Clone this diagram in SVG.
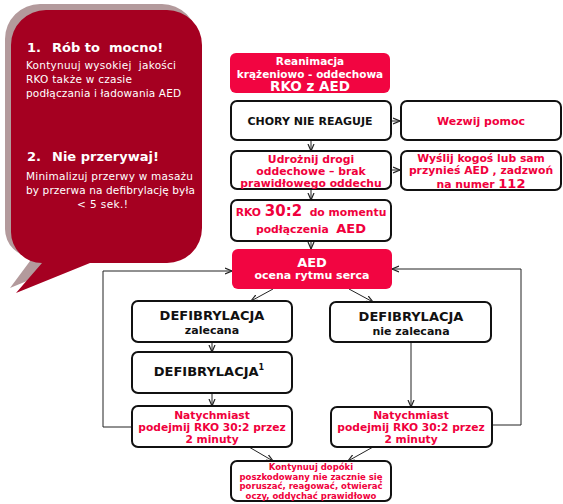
<svg xmlns="http://www.w3.org/2000/svg" width="563" height="504" viewBox="0 0 563 504">
<defs>
<style>
text{font-family:"DejaVu Sans","Verdana",sans-serif;font-weight:bold;text-anchor:middle}
.w{fill:#fff}
.r{fill:#f0003c}
.k{fill:#111}
.box{fill:#fff;stroke:#111;stroke-width:2}
.red{fill:#f20541}
.ln{fill:none;stroke:#222;stroke-width:1}
.bt{font-weight:normal;text-anchor:start;fill:#fff;font-size:10.5px}
</style>
<marker id="ah" markerWidth="8" markerHeight="8" refX="7" refY="4" orient="auto" markerUnits="userSpaceOnUse">
<path d="M0,1 L7,4 L0,7" fill="none" stroke="#222" stroke-width="1.2"/>
</marker>
</defs>
<rect width="563" height="504" fill="#fff"/>
<g id="bubble">
<path d="M40,4 H162 A35,35 0 0 1 197,39 V222 A35,35 0 0 1 162,257 H85 L10,288 L33,257 A28,28 0 0 1 5,229 V39 A35,35 0 0 1 40,4 Z" fill="#b39a9c"/>
<path d="M46,10 H167 A35,35 0 0 1 202,45 V228 A35,35 0 0 1 167,263 H90 L16,293 L42,263 A31,31 0 0 1 11,232 V45 A35,35 0 0 1 46,10 Z" fill="#a50021"/>
<text x="27" y="52" class="w" style="text-anchor:start;font-size:13px">1.</text>
<text x="52" y="52" class="w" style="text-anchor:start;font-size:13px" xml:space="preserve">Rób to  mocno!</text>
<text x="26" y="69" class="bt" textLength="150" lengthAdjust="spacing" xml:space="preserve">Kontynuuj wysokiej  jakości</text>
<text x="26" y="83" class="bt" textLength="106" lengthAdjust="spacing">RKO także w czasie</text>
<text x="26" y="97" class="bt" textLength="155" lengthAdjust="spacing">podłączania i ładowania AED</text>
<text x="27" y="161" class="w" style="text-anchor:start;font-size:13px">2.</text>
<text x="52" y="161" class="w" style="text-anchor:start;font-size:13px">Nie przerywaj!</text>
<text x="26" y="180" class="bt" textLength="167" lengthAdjust="spacing">Minimalizuj przerwy w masażu</text>
<text x="26" y="194" class="bt" textLength="169" lengthAdjust="spacing">by przerwa na defibrylację była</text>
<text x="77" y="208" class="bt" textLength="51" lengthAdjust="spacing">&lt; 5 sek.!</text>
</g>
<g id="connectors">
<line x1="391" y1="121" x2="400" y2="121" class="ln" marker-end="url(#ah)"/>
<line x1="391" y1="170" x2="400" y2="170" class="ln" marker-end="url(#ah)"/>
<line x1="311" y1="140" x2="311" y2="151" class="ln" marker-end="url(#ah)"/>
<line x1="311" y1="189" x2="311" y2="200" class="ln" marker-end="url(#ah)"/>
<line x1="311" y1="241" x2="311" y2="249" class="ln" marker-end="url(#ah)"/>
<line x1="273" y1="289" x2="251" y2="301" class="ln" marker-end="url(#ah)"/>
<line x1="349" y1="289" x2="373" y2="302" class="ln" marker-end="url(#ah)"/>
<line x1="212" y1="342" x2="212" y2="352" class="ln" marker-end="url(#ah)"/>
<line x1="212" y1="393" x2="212" y2="406" class="ln" marker-end="url(#ah)"/>
<line x1="411" y1="342" x2="411" y2="407" class="ln" marker-end="url(#ah)"/>
<polyline points="132,427 103,427 103,271 232,271" class="ln" marker-end="url(#ah)"/>
<polyline points="492,425 521,425 521,269 392,269" class="ln" marker-end="url(#ah)"/>
<line x1="249" y1="447" x2="273" y2="461" class="ln" marker-end="url(#ah)"/>
<line x1="373" y1="447" x2="348" y2="461" class="ln" marker-end="url(#ah)"/>
</g>
<g id="n1">
<rect x="230" y="53" width="160" height="40" rx="6" class="red"/>
<text x="310" y="64.5" class="w" font-size="10.5">Reanimacja</text>
<text x="310" y="77.5" class="w" font-size="10.5">krążeniowo - oddechowa</text>
<text x="310" y="91" class="w" font-size="13.5">RKO z AED</text>
</g>
<g id="n2">
<rect x="231" y="101" width="160" height="39" rx="6" class="box"/>
<text x="310" y="125" class="k" font-size="11">CHORY NIE REAGUJE</text>
</g>
<g id="n3">
<rect x="401" y="101" width="160" height="39" rx="6" class="box"/>
<text x="481" y="125" class="r" font-size="11">Wezwij pomoc</text>
</g>
<g id="n4">
<rect x="231" y="151" width="160" height="38" rx="6" class="box"/>
<text x="311" y="163" class="r" font-size="10.8">Udrożnij drogi</text>
<text x="311" y="175" class="r" font-size="10.8">oddechowe – brak</text>
<text x="311" y="187" class="r" font-size="10.8">prawidłowego oddechu</text>
</g>
<g id="n5">
<rect x="401" y="151" width="160" height="39" rx="6" class="box"/>
<text x="481" y="161.5" class="r" font-size="10.8">Wyślij kogoś lub sam</text>
<text x="481" y="173.5" class="r" font-size="10.8" xml:space="preserve">przynieś AED , zadzwoń</text>
<text x="481" y="188" class="r" font-size="10.8">na numer <tspan font-size="13">112</tspan></text>
</g>
<g id="n6">
<rect x="231" y="200" width="160" height="41" rx="6" class="box"/>
<text x="311" y="216" class="r" font-size="10.8" xml:space="preserve">RKO <tspan font-size="15">30:2</tspan>  do momentu</text>
<text x="311" y="233" class="r" font-size="10.8" xml:space="preserve">podłączenia  <tspan font-size="13">AED</tspan></text>
</g>
<g id="n7">
<rect x="232" y="249" width="160" height="40" rx="6" class="red"/>
<text x="312" y="267" class="w" font-size="13">AED</text>
<text x="312" y="279" class="w" font-size="11">ocena rytmu serca</text>
</g>
<g id="n8">
<rect x="132" y="301" width="160" height="41" rx="6" class="box"/>
<text x="212" y="320" class="k" font-size="13">DEFIBRYLACJA</text>
<text x="212" y="334" class="k" font-size="11">zalecana</text>
</g>
<g id="n9">
<rect x="330" y="302" width="161" height="40" rx="6" class="box"/>
<text x="411" y="321" class="k" font-size="13">DEFIBRYLACJA</text>
<text x="411" y="335" class="k" font-size="11">nie zalecana</text>
</g>
<g id="n10">
<rect x="132" y="352" width="160" height="41" rx="6" class="box"/>
<text x="209" y="376" class="k" font-size="13">DEFIBRYLACJA<tspan font-size="8" dy="-6">1</tspan></text>
</g>
<g id="n11">
<rect x="132" y="406" width="160" height="41" rx="6" class="box"/>
<text x="212" y="419" class="r" font-size="10.7">Natychmiast</text>
<text x="212" y="431" class="r" font-size="10.7">podejmij RKO 30:2 przez</text>
<text x="212" y="443" class="r" font-size="10.7">2 minuty</text>
</g>
<g id="n12">
<rect x="331" y="407" width="161" height="40" rx="6" class="box"/>
<text x="411" y="419" class="r" font-size="10.7">Natychmiast</text>
<text x="411" y="431" class="r" font-size="10.7">podejmij RKO 30:2 przez</text>
<text x="411" y="443" class="r" font-size="10.7">2 minuty</text>
</g>
<g id="n13">
<rect x="231" y="461" width="160" height="40" rx="6" class="box"/>
<text x="311" y="470" class="r" font-size="8.5">Kontynuuj dopóki</text>
<text x="311" y="479.5" class="r" font-size="8.5">poszkodowany nie zacznie się</text>
<text x="311" y="489" class="r" font-size="8.5">poruszać, reagować, otwierać</text>
<text x="311" y="498.5" class="r" font-size="8.5">oczy, oddychać prawidłowo</text>
</g>
</svg>
